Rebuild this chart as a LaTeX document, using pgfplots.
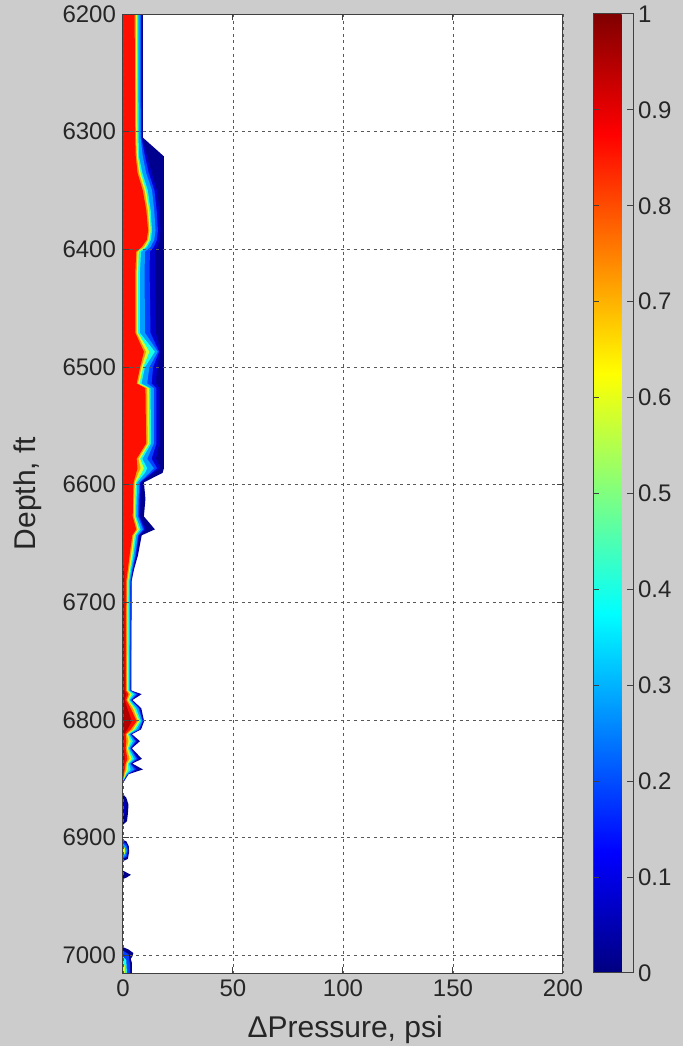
\documentclass[border=0pt]{standalone}
\usepackage{fontspec}
\setmainfont{Liberation Sans}
\usepackage{pgfplots}
\usepackage{pgfplotstable}
\pgfplotsset{compat=1.18}

\definecolor{bg}{rgb}{0.8,0.8,0.8}
\definecolor{c1}{rgb}{0,0,0.56}
\definecolor{c1b}{rgb}{0,0,0.8}
\definecolor{c2}{rgb}{0,0.25,1}
\definecolor{c3}{rgb}{0,0.62,1}
\definecolor{c4}{rgb}{0.1,1,0.9}
\definecolor{c5}{rgb}{0.82,1,0.18}
\definecolor{c6}{rgb}{1,0.62,0}
\definecolor{c7}{rgb}{1,0.06,0}
\definecolor{c8}{rgb}{0.7,0,0}

% depth, boundaries of the filled levels (outer b1 ... inner b7), psi
\pgfplotstableread{
d    b7   b6   b5   b4   b3   bm   b2   b1
6200 0    0    0    0    0    0    0    0
6200 5.3  5.8  6.3  7.0  7.9  8.25 8.6  9.0
6250 5.4  5.9  6.4  7.0  7.9  8.25 8.6  9.0
6305 5.6  6.0  6.5  7.1  8.0  8.35 8.7  9.0
6321 5.8  6.3  6.8  7.3  9.0  10.0 11.0 18.6
6335 6.6  7.3  8.0  8.8  10.5 11.7 13.0 18.6
6350 9.0  9.8  10.5 11.3 13.2 14.3 15.5 18.6
6367 10.6 11.3 12.0 12.6 14.2 15.3 16.5 18.6
6384 11.4 12.0 12.6 13.2 14.8 15.9 17.0 18.6
6392 10.8 11.4 12.0 12.7 14.2 15.4 16.6 18.6
6398 8.5  9.5  10.3 11.0 12.5 14.0 15.5 18.6
6402 6.0  6.6  7.2  8.2  10.0 12.2 14.5 18.6
6420 5.6  6.2  6.8  7.7  9.8  12.1 14.5 18.6
6471 5.6  6.2  6.8  7.7  10.0 12.5 15.0 18.6
6487 9.5  10.5 12.0 14.5 15.8 16.4 17.0 18.6
6500 7.8  8.4  9.2  10.0 12.0 13.7 15.5 18.6
6514 6.2  6.8  7.5  8.4  11.0 13.0 15.0 18.6
6518 10.2 11.0 11.8 12.5 14.0 15.2 16.5 18.6
6565 10.5 11.2 12.0 12.8 14.0 15.2 16.5 18.6
6578 6.2  7.0  7.8  8.8  11.0 13.0 15.0 18.6
6586 6.6  8.0  9.5  11.0 14.0 15.5 17.0 18.6
6590 6.0  7.0  8.5  10.0 12.0 13.0 14.0 18.0
6598 4.8  5.3  5.9  6.5  7.5  7.85 8.2  9.5
6612 4.6  5.1  5.6  6.2  7.0  7.5  8.0  10.2
6627 4.4  5.0  5.5  6.0  6.8  7.3  7.8  9.5
6638 6.0  6.6  7.2  8.0  9.0  9.7  10.5 14.5
6643 4.2  4.8  5.4  6.0  6.8  7.1  7.4  8.5
6660 3.0  3.6  4.2  4.8  5.5  5.85 6.2  6.8
6672 2.2  2.7  3.2  3.7  4.2  4.4  4.6  5.0
6682 1.5  2.0  2.4  2.9  3.3  3.5  3.7  3.9
6775 1.4  1.9  2.3  2.8  3.2  3.4  3.6  3.8
6778 2.5  3.2  4.0  5.0  6.0  6.7  7.5  8.5
6783 1.5  2.0  2.5  3.0  3.5  3.75 4.0  4.3
6790 3.5  4.5  5.2  6.0  7.0  7.4  7.8  8.3
6801 6.2  6.8  7.5  8.2  8.8  9.0  9.2  9.6
6808 3.5  4.5  5.2  6.0  7.0  7.4  7.8  8.2
6812 1.2  1.7  2.2  2.7  3.2  3.45 3.7  4.0
6818 1.5  2.5  3.5  4.5  5.5  6.1  6.8  7.7
6824 1.2  1.7  2.2  2.7  3.2  3.45 3.7  4.0
6833 2.0  3.0  4.0  5.0  6.0  6.7  7.5  8.6
6837 1.2  1.7  2.2  2.7  3.2  3.45 3.7  4.2
6842 0.8  1.5  2.3  3.5  5.0  6.0  7.0  9.1
6846 0.4  0.8  1.2  1.6  2.0  2.15 2.3  2.5
6852 0    0    0    0    0    0.15 0.3  0.5
6853 0    0    0    0    0    0    0    0
}\main

\begin{document}
\begin{tikzpicture}
\fill[bg] (0,0) rectangle (341.5pt,523pt);
\useasboundingbox (0,0) rectangle (341.5pt,523pt);
\begin{axis}[
  at={(61.5pt,36.5pt)}, anchor=south west,
  scale only axis, width=220pt, height=479.5pt,
  xmin=0, xmax=200, ymin=6200, ymax=7015,
  y dir=reverse,
  xtick={0,50,100,150,200},
  ytick={6200,6300,6400,6500,6600,6700,6800,6900,7000},
  /pgf/number format/assume math mode=true,
  yticklabel style={/pgf/number format/1000 sep={}},
  grid=major,
  grid style={black!65, dash pattern=on 1.5pt off 1.8pt, line width=0.45pt},
  axis line style={black!75, line width=0.5pt},
  tick style={black!75, line width=0.5pt},
  tick align=inside, major tick length=3pt,
  axis on top,
  axis background/.style={fill=white},
  ticklabel style={font=\fontsize{12}{14}\selectfont, text=black!85},
  label style={font=\fontsize{15}{18}\selectfont, text=black!85},
  xlabel={ΔPressure, psi},
  ylabel={Depth, ft},
  xlabel style={at={(axis description cs:0.505,-0.0594)}, anchor=center},
  ylabel style={at={(axis description cs:-0.216,0.5)}, anchor=center},
  colorbar,
  colormap/jet,
  point meta min=0, point meta max=1,
  colorbar style={
    scale only axis, width=20pt, height=479.5pt,
    at={(parent axis.north east)}, anchor=north west, xshift=6.5pt,
    ytick={0,0.1,0.2,0.3,0.4,0.5,0.6,0.7,0.8,0.9,1},
    ytick pos=both, yticklabel pos=right,
    tick align=inside, major tick length=3pt,
    axis line style={black!75, line width=0.5pt},
    tick style={black!75, line width=0.5pt},
    yticklabel style={font=\fontsize{12}{14}\selectfont, text=black!85,
      /pgf/number format/assume math mode=true, xshift=-1pt},
  },
]
\addplot[fill=c1, draw=none] table[x=b1, y=d] {\main};
\addplot[fill=c1b, draw=none] table[x=b2, y=d] {\main};
\addplot[fill=c2, draw=none] table[x=bm, y=d] {\main};
\addplot[fill=c3, draw=none] table[x=b3, y=d] {\main};
\addplot[fill=c4, draw=none] table[x=b4, y=d] {\main};
\addplot[fill=c5, draw=none] table[x=b5, y=d] {\main};
\addplot[fill=c6, draw=none] table[x=b6, y=d] {\main};
\addplot[fill=c7, draw=none] table[x=b7, y=d] {\main};
% dark red core along the thin part
\addplot[fill=c8, draw=none] coordinates {(0,6665) (0.6,6675) (0.7,6775) (1.5,6778) (0.8,6783) (2.0,6790) (4.0,6801) (2.0,6808) (0.5,6812) (0.5,6824) (0.8,6833) (0.5,6837) (0.3,6842) (0,6846)};
% isolated blobs
\addplot[fill=c1, draw=none] coordinates {(0,6863) (1.5,6866) (2.5,6872) (2.2,6880) (1.8,6886) (0,6889)};
\addplot[fill=c1b, draw=none] coordinates {(0,6868) (1.0,6871) (1.2,6878) (0,6883)};
\addplot[fill=c1, draw=none] coordinates {(0,6902) (1.5,6903) (2.6,6907) (2.8,6912) (2.2,6918) (0,6920)};
\addplot[fill=c2, draw=none] coordinates {(0,6903.5) (1.6,6905.5) (2.2,6910) (1.8,6916) (0,6918)};
\addplot[fill=c3, draw=none] coordinates {(0,6905) (1.5,6907.5) (1.8,6911) (1.3,6915) (0,6917)};
\addplot[fill=c5, draw=none] coordinates {(0,6907) (0.9,6909) (1.1,6912) (0.7,6914) (0,6915)};
\addplot[fill=c1, draw=none] coordinates {(0,6928) (1.5,6929.5) (3.6,6931.5) (1.5,6934) (0,6935)};
\addplot[fill=c1, draw=none] coordinates {(0,6993) (2.5,6995) (4.7,6998) (4.2,7001) (3.5,7003) (4.0,7006) (4.0,7015) (0,7015)};
\addplot[fill=c2, draw=none] coordinates {(0,6996) (2.5,6999) (2.8,7003) (3.2,7008) (3.2,7015) (0,7015)};
\addplot[fill=c4, draw=none] coordinates {(0,7001) (1.5,7004) (1.8,7015) (0,7015)};
\addplot[fill=c5, draw=none] coordinates {(0,7006) (0.8,7009) (0.9,7015) (0,7015)};
\end{axis}
\end{tikzpicture}
\end{document}
